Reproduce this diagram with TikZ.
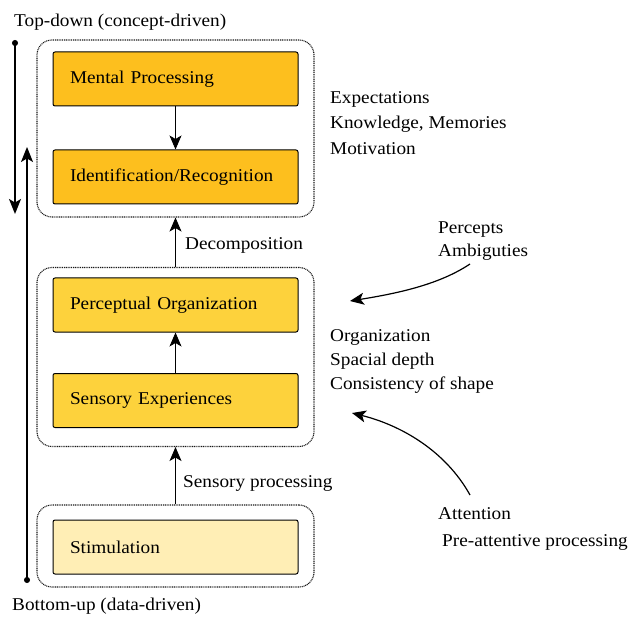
\documentclass[tikz,border=0pt]{standalone}
\usepackage{fontspec}
\setmainfont[FakeStretch=1.07]{Liberation Serif}
\usetikzlibrary{arrows.meta}
\definecolor{boxtop}{HTML}{FDBF1E}
\definecolor{boxmid}{HTML}{FDD23C}
\definecolor{boxlow}{HTML}{FFEEB5}
\tikzset{
  txt/.style={font=\fontsize{18}{25}\selectfont},
  stagebox/.style={txt, draw=black, line width=1pt, rounded corners=2pt,
    minimum width=245pt, minimum height=54pt, text width=211pt,
    inner xsep=17pt, align=left},
  groupbox/.style={draw=black!90, dash pattern=on 1pt off 0.8pt, line width=1.1pt,
    rounded corners=15pt, minimum width=277pt},
  flow/.style={-{Stealth[length=14pt,width=12pt,inset=3.5pt]}, line width=0.9pt},
  side/.style={txt, align=left, anchor=west, inner sep=0pt},
  axisline/.style={{Circle[length=6pt]}-{Stealth[length=15pt,width=12pt,inset=3.5pt]}, line width=1.3pt},
}
\begin{document}
\begin{tikzpicture}[x=1pt, y=-1pt]
\useasboundingbox (0,0) rectangle (639,617);

% processing stages
\node[stagebox, fill=boxtop] (mental) at (175.5,79) {Mental Processing};
\node[stagebox, fill=boxtop] (ident) at (175.5,177) {Identification/Recognition};
\node[stagebox, fill=boxmid] (percept) at (175.5,305) {Perceptual Organization};
\node[stagebox, fill=boxmid] (sensory) at (175.5,400.5) {Sensory Experiences};
\node[stagebox, fill=boxlow] (stim) at (175.5,547) {Stimulation};

% grouping frames
\node[groupbox, minimum height=177pt] (g1) at (175.5,128.5) {};
\node[groupbox, minimum height=179pt] (g2) at (175.5,357) {};
\node[groupbox, minimum height=82pt] (g3) at (175.5,546) {};

% arrows between stages
\draw[flow] (mental) -- (ident);
\draw[flow] (sensory) -- (percept);
\draw[flow] (g2.north) -- (g1.south);
\draw[flow] (g3.north) -- (g2.south);
\node[txt, anchor=west, inner sep=0pt] (decomp) at (185,245) {Decomposition};
\node[txt, anchor=west, inner sep=0pt] (sensproc) at (183,483) {Sensory processing};

% top-down / bottom-up axes
\coordinate (tdstart) at (15,40);
\coordinate (tdend) at (15,214);
\coordinate (bustart) at (27,583);
\coordinate (buend) at (27,147);
\draw[axisline] (tdstart) -- (tdend);
\draw[axisline] (bustart) -- (buend);
\node[txt, anchor=west, inner sep=0pt] (toplabel) at (14,22) {Top-down (concept-driven)};
\node[txt, anchor=west, inner sep=0pt] (botlabel) at (12,606) {Bottom-up (data-driven)};

% side annotations
\node[side, font=\fontsize{18}{25.5}\selectfont] (topnotes) at (330,123) {Expectations\\Knowledge, Memories\\Motivation};
\node[side, font=\fontsize{18}{24}\selectfont] (midnotes) at (330,361) {Organization\\Spacial depth\\Consistency of shape};
\node[side, font=\fontsize{18}{23}\selectfont] (percnotes) at (438,241) {Percepts\\Ambiguties};
\node[side, font=\fontsize{18}{27}\selectfont] (attnotes) at (438,529) {Attention\\\hspace*{4pt}Pre-attentive processing};

% influence arrows
\coordinate (percfrom) at (470,264);
\coordinate (percto) at (350,301);
\coordinate (attfrom) at (470,495);
\coordinate (attto) at (352,413);
\draw[flow, line width=1.2pt] (percfrom) .. controls (440,284) and (400,293) .. (percto);
\draw[flow, line width=1.2pt] (attfrom) .. controls (445,450) and (400,425) .. (attto);
\end{tikzpicture}
\end{document}
